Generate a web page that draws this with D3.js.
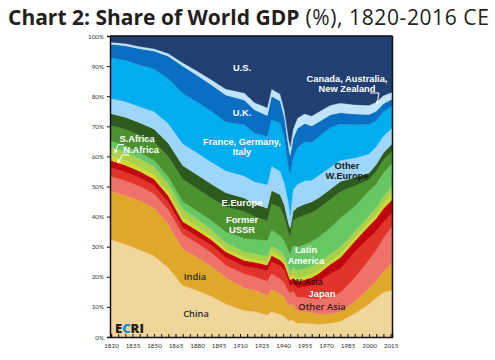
<!DOCTYPE html>
<html><head><meta charset="utf-8">
<script src="https://cdn.jsdelivr.net/npm/d3@7/dist/d3.min.js"></script>
<style>body{margin:0;background:#fff}svg{display:block}</style>
</head><body>
<svg id="chart" width="495" height="360"></svg>
<script>
const years = [1820,1830,1840,1850,1860,1870,1880,1890,1900,1913,1920,1929,1932,1938,1941,1944,1945,1947,1950,1955,1960,1965,1973,1980,1990,2000,2005,2010,2016];
const china     = [32.4,30.8,29.0,27.0,23.0,17.1,15.5,13.5,11.0,8.8,8.5,7.3,8.5,7.5,6.8,5.3,5.6,5.5,4.5,4.6,4.4,4.2,4.6,5.2,7.8,11.0,13.0,14.8,15.6];
const india     = [16.0,16.2,16.3,15.9,14.5,12.1,11.0,10.0,8.8,7.5,7.0,6.5,7.3,6.8,6.3,5.2,5.1,5.2,4.2,3.9,3.7,3.4,3.1,3.2,4.0,5.2,5.8,7.0,8.9];
const otherAsia = [4.9,4.9,4.8,4.7,4.8,4.9,4.7,4.5,4.0,4.6,4.5,4.7,5.2,5.0,4.8,4.3,4.1,4.4,4.5,4.6,4.7,5.0,5.5,6.3,7.8,9.5,10.0,11.0,12.1];
const japan     = [3.0,2.9,2.8,2.7,2.5,2.3,2.3,2.4,2.6,2.6,3.0,3.5,4.0,4.3,4.3,3.5,2.2,2.4,3.0,3.5,4.4,5.8,7.8,7.9,8.6,7.3,6.3,5.4,4.5];
const wAsia     = [2.3,2.3,2.2,2.2,2.1,2.0,2.0,1.9,1.9,1.9,1.8,1.9,2.1,2.0,1.9,1.9,1.9,2.1,2.2,2.4,2.6,2.8,3.2,3.8,3.6,4.0,4.3,4.5,4.5];
const nAfrica   = [1.5,1.5,1.4,1.4,1.3,1.3,1.2,1.1,1.0,1.0,1.0,1.0,1.1,1.0,0.9,0.9,0.9,1.0,1.1,1.1,1.1,1.1,1.0,1.1,1.2,1.3,1.4,1.6,2.0];
const sAfrica   = [3.0,2.9,2.8,2.7,2.7,2.8,2.5,2.3,2.1,1.9,1.9,1.9,2.1,2.0,1.9,1.8,1.8,2.5,2.7,2.6,2.6,2.6,2.4,2.4,2.1,2.0,2.1,2.3,2.5];
const latAm     = [2.0,2.0,2.0,2.1,2.3,2.5,2.7,3.0,3.6,4.4,4.8,5.3,5.3,5.0,4.8,5.5,5.9,7.2,7.8,8.0,8.2,8.3,8.7,9.6,8.3,8.2,7.9,7.9,7.5];
const ussr      = [5.2,5.5,5.8,6.2,6.8,7.5,7.4,7.5,8.3,9.0,7.5,6.5,8.7,9.5,8.0,6.0,6.0,8.4,9.6,9.8,9.6,9.6,9.4,8.8,6.8,3.8,4.2,4.4,4.0];
const eEurope   = [3.9,4.0,4.1,4.2,4.4,4.5,4.6,4.6,4.6,4.5,4.3,4.2,4.4,4.2,4.0,3.0,2.6,3.0,3.5,3.6,3.6,3.5,3.4,3.4,2.8,2.2,2.3,2.3,2.5];
const otherWEur = [5.0,5.2,5.3,5.8,6.5,7.2,7.3,7.3,7.3,7.3,7.3,7.8,8.0,7.8,7.4,6.8,4.0,7.2,7.6,7.8,7.2,7.4,7.3,7.0,6.5,6.3,6.0,5.6,5.3];
const fgi       = [13.6,13.7,13.9,14.1,14.9,16.8,16.9,16.9,16.2,17.0,16.2,16.0,15.5,16.0,14.5,11.5,14.0,10.4,12.1,13.0,12.5,12.8,13.2,12.0,11.0,9.8,8.6,8.0,7.3];
const uk        = [4.5,4.9,5.4,6.0,7.5,9.0,8.9,8.8,9.0,8.2,7.7,7.0,7.8,7.3,7.2,7.0,6.2,6.6,6.5,6.0,5.5,5.0,4.2,3.8,3.6,3.3,3.1,2.7,2.3];
const canAusNz  = [0.6,0.7,0.7,0.8,0.9,1.1,1.4,1.7,2.0,2.4,2.4,2.6,2.4,2.3,2.4,2.8,2.9,3.1,3.4,3.3,3.3,3.3,3.2,3.2,3.1,3.1,3.0,2.7,2.3];
const us        = [2.1,2.5,3.5,4.2,5.8,8.9,11.6,14.5,17.6,18.9,22.1,23.8,17.6,19.3,24.8,34.5,36.8,31.0,27.3,25.8,26.6,25.2,23.0,22.3,22.8,23.0,22.0,19.8,18.7];

const xTickLabels = [1820,1835,1850,1865,1880,1895,1910,1925,1940,1955,1970,1985,2000,2015];
const yTickLabels = ["0%","10%","20%","30%","40%","50%","60%","70%","80%","90%","100%"];

const seriesList = [
  {key:"China", values:china, color:"#f1d69b"},
  {key:"India", values:india, color:"#e0a82b"},
  {key:"Other Asia", values:otherAsia, color:"#ee7268"},
  {key:"Japan", values:japan, color:"#e2342a"},
  {key:"W.Asia", values:wAsia, color:"#c3060d"},
  {key:"N.Africa", values:nAfrica, color:"#cfd92f"},
  {key:"S.Africa", values:sAfrica, color:"#a9d14a"},
  {key:"Latin America", values:latAm, color:"#66c764"},
  {key:"Former USSR", values:ussr, color:"#4c9330"},
  {key:"E.Europe", values:eEurope, color:"#2d5a1d"},
  {key:"Other W.Europe", values:otherWEur, color:"#9dd6f8"},
  {key:"France, Germany, Italy", values:fgi, color:"#00aeef"},
  {key:"U.K.", values:uk, color:"#0a6fc2"},
  {key:"Canada, Australia, New Zealand", values:canAusNz, color:"#bfe3f8"},
  {key:"U.S.", values:us, color:"#213f70"}
];

const rows = years.map((yr,i)=>{
  const r = {year:yr};
  seriesList.forEach(s=>{ r[s.key]=s.values[i]; });
  return r;
});

const svg = d3.select("#chart");
const L=110, R=392, T=36, B=337;
const x = d3.scaleLinear().domain([1820,2016]).range([L+1,R]);
const y = d3.scaleLinear().domain([0,100]).range([B,T]);

const layers = d3.stack().keys(seriesList.map(s=>s.key))(rows);
const area = d3.area()
  .x(d=>x(d.data.year))
  .y0(d=>y(d[0]))
  .y1(d=>y(d[1]))
  .curve(d3.curveLinear);

svg.append("g").selectAll("path").data(layers).join("path")
  .attr("d", area)
  .attr("fill", (d,i)=>seriesList[i].color)
  .attr("stroke", (d,i)=>seriesList[i].color)
  .attr("stroke-width", 0.3);

// frame top & right
svg.append("line").attr("x1",L).attr("x2",R+0.5).attr("y1",T).attr("y2",T).attr("stroke","#111").attr("stroke-width",1.5);
svg.append("line").attr("x1",R+0.5).attr("x2",R+0.5).attr("y1",T).attr("y2",B).attr("stroke","#111").attr("stroke-width",1.5);

// axes
const yAxis = d3.axisLeft(y).tickValues(d3.range(0,101,10)).tickFormat((d,i)=>yTickLabels[i]).tickSize(3).tickPadding(3);
const gy = svg.append("g").attr("transform",`translate(${L},0)`).call(yAxis);
gy.select(".domain").attr("stroke","#111").attr("stroke-width",1.5);
gy.selectAll(".tick line").attr("stroke","#111");
gy.selectAll("text").attr("font-family","Lato, sans-serif").attr("font-size","6.3px").attr("fill","#333");

const xAxis = d3.axisBottom(x).tickValues(d3.range(1820,2016,5)).tickSize(-3).tickFormat(d=>xTickLabels.includes(d)?String(d):"").tickPadding(7);
const gx = svg.append("g").attr("transform",`translate(0,${B})`).call(xAxis);
gx.select(".domain").attr("stroke","#111").attr("stroke-width",1.5);
gx.selectAll(".tick line").attr("stroke","#111");
gx.selectAll("text").attr("font-family","Lato, sans-serif").attr("font-size","6.3px").attr("fill","#333");

// title
const title = svg.append("text").attr("x",8).attr("y",25).attr("font-family","'Open Sans', sans-serif").attr("font-size","21px").attr("fill","#231f20");
title.append("tspan").attr("font-weight","700").text("Chart 2: Share of World GDP");
title.append("tspan").attr("font-weight","400").attr("letter-spacing","0.6px").text(" (%), 1820-2016 CE");

// labels (one text per line)
function lab(lines, cx, cy, color, opts){
  const o = Object.assign({font:"'Liberation Sans', Arial, sans-serif", weight:700, size:9.3, lh:10.5}, opts||{});
  lines.forEach((l,i)=>{
    svg.append("text").attr("text-anchor","middle").attr("font-family",o.font)
      .attr("font-weight",o.weight).attr("font-size",o.size+"px").attr("fill",color)
      .attr("x",cx).attr("y",cy+i*o.lh).text(l);
  });
}
lab(["U.S."],242,71,"#fff");
lab(["U.K."],242,116,"#fff");
lab(["France, Germany,","Italy"],242,144.5,"#fff");
lab(["Canada, Australia,","New Zealand"],347,81.5,"#fff");
lab(["S.Africa"],137,141.5,"#fff");
lab(["N.Africa"],141,152.5,"#fff");
lab(["Other","W.Europe"],347,168.5,"#1b1b1b");
lab(["E.Europe"],242,206,"#fff");
lab(["Former","USSR"],242,222.5,"#fff");
lab(["Latin","America"],306,253,"#fff");
const dark = {font:"'Open Sans', sans-serif", weight:600};
lab(["W.Asia"],308,285,"#3a0a0a",dark);
lab(["Japan"],322,296.5,"#fff");
lab(["Other Asia"],322,310,"#3a1a1a",dark);
lab(["India"],195,280,"#2a2a2a",dark);
lab(["China"],196,317,"#2a2a2a",dark);

// pointers
const defs = svg.append("defs");
defs.append("marker").attr("id","ah").attr("viewBox","0 0 6 6").attr("refX",5).attr("refY",3)
  .attr("markerWidth",4).attr("markerHeight",4).attr("orient","auto")
  .append("path").attr("d","M0,0L6,3L0,6Z").attr("fill","#fff");
function ptr(pts){
  svg.append("path").attr("d",d3.line()(pts)).attr("fill","none").attr("stroke","#fff").attr("stroke-width",1).attr("marker-end","url(#ah)");
}
ptr([[370,93],[379,93],[377,104]]);
ptr([[124,144.5],[118,144.5],[115,153]]);
ptr([[129,155],[122,155],[118,163]]);

// ECRI logo
const logo = svg.append("text").attr("x",115).attr("y",333).attr("font-family","'Open Sans', sans-serif").attr("font-weight",800).attr("font-size","13px").attr("fill","#231f20");
logo.append("tspan").text("E");
logo.append("tspan").attr("fill","#1a8ad4").text("C");
logo.append("tspan").text("RI");
</script>
</body></html>
